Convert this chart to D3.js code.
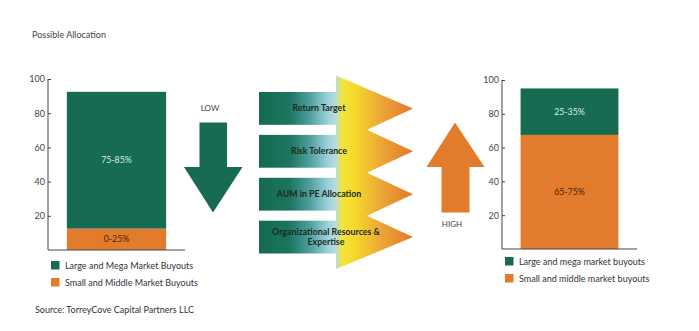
<!DOCTYPE html>
<html>
<head>
<meta charset="utf-8">
<script src="https://cdn.jsdelivr.net/npm/d3@7"></script>
<style>
  body { margin: 0; background: #fff; }
  text { font-family: Lato, "Open Sans", sans-serif; }
</style>
</head>
<body>
<script>
'use strict';

// data
const bars = ["Low", "High"];
const smallMiddle = [12.5, 67.5];
const largeMega = [80, 27.5];
const smallLabels = ["0-25%", "65-75%"];
const largeLabels = ["75-85%", "25-35%"];
const legendLow = ["Large and Mega Market Buyouts", "Small and Middle Market Buyouts"];
const legendHigh = ["Large and mega market buyouts", "Small and middle market buyouts"];
const yTicks = [20, 40, 60, 80, 100];
const factors = ["Return Target", "Risk Tolerance", "AUM in PE Allocation", "Organizational Resources & Expertise"];

const width = 699, height = 331;
const green = "#176b53", orange = "#e27b2b";

let svg = d3.select("body").append("svg")
    .attr("width", width)
    .attr("height", height);

svg.append("text")
    .attr("x", 32).attr("y", 38)
    .attr("font-size", 9).attr("fill", "#444")
    .text("Possible Allocation");

let rows = bars.map((b, i) => ({bar: b, small: smallMiddle[i], large: largeMega[i]}));
let stacked = d3.stack().keys(["small", "large"])(rows);
let labels = {small: smallLabels, large: largeLabels};
let labelColor = {small: "#4a2508", large: "#d6eee6"};
let fill = {small: orange, large: green};

// one panel per bar
function panel(i, x0, x1, y0, y1, legend, legendY) {
    let y = d3.scaleLinear().domain([0, 100]).range([y0, y1]);
    let x = d3.scaleBand().domain([bars[i]]).range([x0, x1]).paddingOuter(0.19);
    let g = svg.append("g");

    stacked.forEach(s => {
        let d = s[i];
        g.append("rect")
            .attr("x", x(bars[i]))
            .attr("width", x.bandwidth())
            .attr("y", y(d[1]))
            .attr("height", y(d[0]) - y(d[1]))
            .attr("fill", fill[s.key]);
        g.append("text")
            .attr("x", x(bars[i]) + x.bandwidth() / 2)
            .attr("y", y((d[0] + d[1]) / 2) + 3)
            .attr("text-anchor", "middle")
            .attr("font-size", 8.8)
            .attr("fill", labelColor[s.key])
            .text(labels[s.key][i]);
    });

    let ax = g.append("g")
        .attr("transform", "translate(" + x0 + ",0)")
        .call(d3.axisLeft(y).tickValues(yTicks).tickSize(-3).tickSizeOuter(0).tickPadding(3));
    ax.select(".domain").remove();
    ax.selectAll("line").attr("stroke", "#444");
    ax.selectAll("text").attr("font-size", 9).attr("fill", "#444")
        .style("font-family", "Lato, sans-serif");

    g.append("line")
        .attr("x1", x0).attr("x2", x0)
        .attr("y1", y(100)).attr("y2", y(0))
        .attr("stroke", "#444");
    g.append("line")
        .attr("x1", x0).attr("x2", x1)
        .attr("y1", y(0)).attr("y2", y(0))
        .attr("stroke", "#444");

    legend.forEach((t, k) => {
        let ly = legendY + k * 17;
        g.append("rect")
            .attr("x", x0 + 3).attr("y", ly)
            .attr("width", 8.5).attr("height", 8.5)
            .attr("fill", k == 0 ? green : orange);
        g.append("text")
            .attr("x", x0 + 17).attr("y", ly + 7.5)
            .attr("font-size", 9).attr("fill", "#333")
            .text(t);
    });
}

panel(0, 48, 185, 250, 79, legendLow, 261);
panel(1, 502, 637, 249, 80, legendHigh, 257);

svg.append("text")
    .attr("x", 35).attr("y", 313)
    .attr("font-size", 9).attr("fill", "#333")
    .text("Source: TorreyCove Capital Partners LLC");

// LOW / HIGH arrows
svg.append("text")
    .attr("x", 210).attr("y", 111)
    .attr("text-anchor", "middle")
    .attr("font-size", 8).attr("fill", "#444")
    .text("LOW");
svg.append("path")
    .attr("d", "M199.5,122.5 H227 V167 H242.5 L213,212.5 L184,167 H199.5 Z")
    .attr("fill", green);

svg.append("text")
    .attr("x", 452).attr("y", 227)
    .attr("text-anchor", "middle")
    .attr("font-size", 8).attr("fill", "#444")
    .text("HIGH");
svg.append("path")
    .attr("d", "M455,122.5 L484.5,167 H469.5 V212.5 H441.5 V167 H426.5 Z")
    .attr("fill", orange);

// factor chevrons
let defs = svg.append("defs");
let grad = defs.append("linearGradient")
    .attr("id", "flow")
    .attr("gradientUnits", "userSpaceOnUse")
    .attr("x1", 259).attr("x2", 413).attr("y1", 0).attr("y2", 0);
[[0, "#146a51"], [0.2, "#1c7560"], [0.33, "#4f9f9c"], [0.45, "#9dd2dc"], [0.5, "#b9dcd8"],
 [0.54, "#f3e53a"], [0.62, "#f6d92a"], [0.8, "#eca437"], [1, "#e0782a"]].forEach(s => {
    grad.append("stop").attr("offset", s[0]).attr("stop-color", s[1]);
});

let row = d3.scaleBand().domain(factors).range([92, 253.5]).paddingInner(0.235);
let tipX = 413, notchX = 367, baseX = 336;
let pts = [[baseX, row(factors[0]) + row.bandwidth() / 2 - 33]];
factors.forEach((f, k) => {
    let c = row(f) + row.bandwidth() / 2;
    pts.push([tipX, c]);
    if (k < factors.length - 1) {
        let nxt = row(factors[k + 1]) + row.bandwidth() / 2;
        pts.push([notchX, (c + nxt) / 2]);
    } else {
        pts.push([baseX, c + 32]);
    }
});
let mid = svg.append("g");
mid.selectAll("rect")
    .data(factors)
    .enter().append("rect")
    .attr("x", 259)
    .attr("width", baseX + 4 - 259)
    .attr("y", d => row(d))
    .attr("height", row.bandwidth())
    .attr("fill", "url(#flow)");
mid.append("path")
    .attr("d", d3.line()(pts) + "Z")
    .attr("fill", "url(#flow)");

mid.selectAll("text.factor")
    .data(factors)
    .enter().append("text")
    .attr("class", "factor")
    .attr("x", 319)
    .attr("text-anchor", "middle")
    .attr("font-size", 8.8)
    .attr("font-weight", "bold")
    .attr("fill", "#1c2a22")
    .each(function(d) {
        let lines = d.includes("&") ? [d.slice(0, d.indexOf("&") + 1), d.slice(d.indexOf("&") + 2)] : [d];
        let c = row(d) + row.bandwidth() / 2;
        let t = d3.select(this);
        lines.forEach((l, k) => {
            t.append("tspan")
                .attr("x", lines.length > 1 ? 326 : 319)
                .attr("y", c + 3 + (k - (lines.length - 1) / 2) * 9.5)
                .text(l);
        });
    });
</script>
</body>
</html>
